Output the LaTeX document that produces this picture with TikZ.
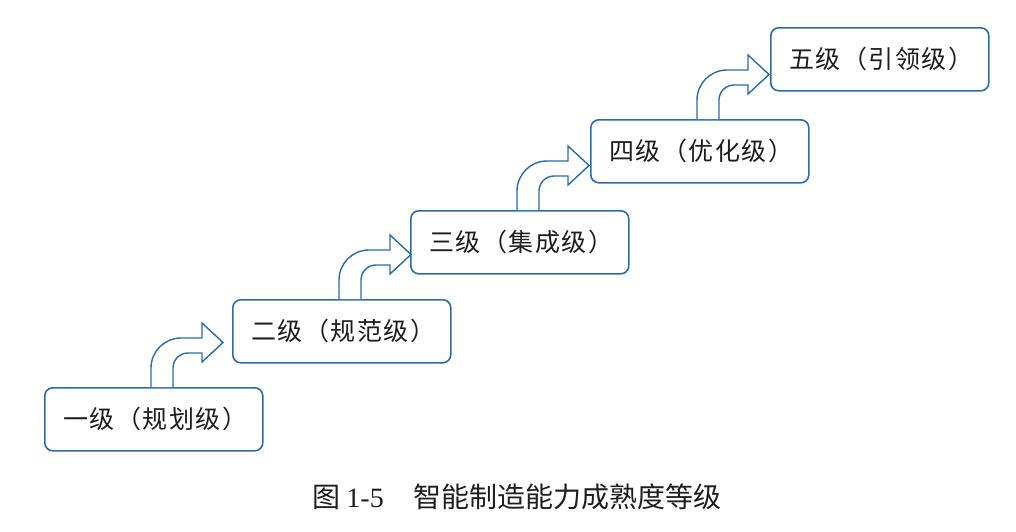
\documentclass[tikz,border=0pt]{standalone}
\usepackage{fontspec}
\newfontfamily\cjk{Noto Sans CJK SC}
\newfontfamily\cjkspaced[LetterSpace=6]{Noto Sans CJK SC}
\newfontfamily\latserif{Liberation Serif}
\usetikzlibrary{calc}
\definecolor{boxblue}{RGB}{38,108,180}
\definecolor{txt}{RGB}{30,30,30}
\begin{document}
\begin{tikzpicture}[x=1pt,y=-1pt,
  levelbox/.style={draw=boxblue,line width=1.6pt,rounded corners=8pt,fill=white,
    minimum width=218pt,minimum height=63pt,anchor=north west,inner sep=0pt,
    font=\cjkspaced\fontsize{25}{29}\selectfont,text=txt},
  bentarrow/.style={draw=boxblue,line width=1.4pt,fill=white,line join=miter}]
\useasboundingbox (0,0) rectangle (1016,531);
\node[levelbox] (b1) at (44,387) {\hspace{3pt}一级（规划级）};
\node[levelbox] (b2) at (232,299) {\hspace{3pt}二级（规范级）};
\node[levelbox] (b3) at (410,210) {\hspace{3pt}三级（集成级）};
\node[levelbox] (b4) at (590,119) {\hspace{3pt}四级（优化级）};
\node[levelbox] (b5) at (770,27) {\hspace{3pt}五级（引领级）};
\foreach \n in {b1,b2,b3,b4}{
  \begin{scope}[shift={(\n.north west)}]
    \draw[bentarrow] (107,0) -- (107,-19) arc[start angle=180,end angle=270,radius=30]
      -- (158,-49) -- (158,-64) -- (179,-44.5) -- (158,-25) -- (158,-34)
      -- (144,-34) arc[start angle=270,end angle=180,radius=15] -- (129,0);
  \end{scope}
}
\node[font=\cjk\fontsize{28}{32}\selectfont,text=txt,anchor=center] (cap) at (517,497)
  {图 {\latserif 1-5}\hspace{30pt}智能制造能力成熟度等级};
\end{tikzpicture}
\end{document}
